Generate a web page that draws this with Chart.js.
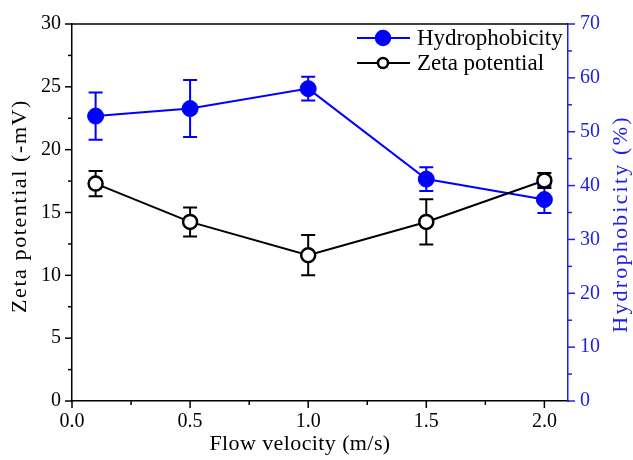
<!DOCTYPE html>
<html>
<head>
<meta charset="utf-8">
<script src="https://cdn.jsdelivr.net/npm/chart.js@4/dist/chart.umd.min.js"></script>
<style>
  html, body { margin: 0; padding: 0; background: #fff; }
  #wrap { width: 633px; height: 460px; position: relative; }
</style>
</head>
<body>
<div id="wrap"><canvas id="c" width="633" height="460"></canvas></div>
<script>
// ---- Data ----
const velocity = [0.1, 0.5, 1.0, 1.5, 2.0];
const hydrophobicity = [52.9, 54.3, 58.0, 41.2, 37.4];
const hydrophobicityErr = [4.4, 5.3, 2.2, 2.2, 2.5];
const zetaPotential = [17.3, 14.25, 11.6, 14.25, 17.55];
const zetaPotentialErr = [1.0, 1.15, 1.6, 1.8, 0.6];
const xTickValues = [0.0, 0.5, 1.0, 1.5, 2.0];
const yLeftTickValues = [0, 5, 10, 15, 20, 25, 30];
const yRightTickValues = [0, 10, 20, 30, 40, 50, 60, 70];
const seriesNames = ['Hydrophobicity', 'Zeta potential'];
const xTitle = 'Flow velocity (m/s)';
const yLeftTitle = 'Zeta potential (-mV)';
const yRightTitle = 'Hydrophobicity (%)';

const BLUE = '#0000ff';
const AXIS_BLUE = '#2020e0';
const FONT = "'Liberation Serif', 'Times New Roman', serif";

const toPts = (xs, ys) => xs.map((x, i) => ({x: x, y: ys[i]}));
const fixTicks = vals => (s => { s.ticks = vals.map(v => ({value: v})); });

const errorBars = {
  id: 'errorBars',
  beforeDatasetDraw(chart, args) {
    const ds = chart.data.datasets[args.index];
    if (!ds.errors) return;
    const ctx = chart.ctx;
    const xs = chart.scales.x, ys = chart.scales[ds.yAxisID];
    ctx.save();
    ctx.strokeStyle = ds.borderColor;
    ctx.lineWidth = 2;
    ds.data.forEach((p, i) => {
      const e = ds.errors[i];
      const px = xs.getPixelForValue(p.x);
      const top = ys.getPixelForValue(p.y + e);
      const bot = ys.getPixelForValue(p.y - e);
      ctx.beginPath();
      ctx.moveTo(px, top); ctx.lineTo(px, bot);
      ctx.moveTo(px - 7, top); ctx.lineTo(px + 7, top);
      ctx.moveTo(px - 7, bot); ctx.lineTo(px + 7, bot);
      ctx.stroke();
    });
    ctx.restore();
  }
};

const decor = {
  id: 'decor',
  afterDraw(chart) {
    const ctx = chart.ctx;
    const a = chart.chartArea;
    const sx = chart.scales.x, sl = chart.scales.y, sr = chart.scales.y2;
    ctx.save();
    // top frame
    ctx.strokeStyle = '#000';
    ctx.lineWidth = 1.5;
    ctx.beginPath();
    ctx.moveTo(a.left, a.top); ctx.lineTo(a.right, a.top);
    ctx.stroke();
    // x ticks
    for (let v = 0; v <= 2.1001; v += 0.25) {
      const major = Math.abs(v / 0.5 - Math.round(v / 0.5)) < 1e-6;
      const px = sx.getPixelForValue(v);
      ctx.beginPath();
      ctx.moveTo(px, a.bottom); ctx.lineTo(px, a.bottom + (major ? 7 : 4));
      ctx.stroke();
    }
    // left ticks
    for (let v = 0; v <= 30.001; v += 2.5) {
      const major = Math.abs(v / 5 - Math.round(v / 5)) < 1e-6;
      const py = sl.getPixelForValue(v);
      ctx.beginPath();
      ctx.moveTo(a.left, py); ctx.lineTo(a.left - (major ? 7 : 4), py);
      ctx.stroke();
    }
    // right ticks
    ctx.strokeStyle = AXIS_BLUE;
    for (let v = 0; v <= 70.001; v += 5) {
      const major = Math.abs(v / 10 - Math.round(v / 10)) < 1e-6;
      const py = sr.getPixelForValue(v);
      ctx.beginPath();
      ctx.moveTo(a.right, py); ctx.lineTo(a.right + (major ? 7 : 4), py);
      ctx.stroke();
    }
    // titles
    ctx.textAlign = 'center';
    ctx.textBaseline = 'middle';
    ctx.fillStyle = '#000';
    ctx.font = '22px ' + FONT;
    ctx.letterSpacing = '0.4px';
    ctx.fillText(xTitle, 300, 444);
    ctx.letterSpacing = '1.6px';
    ctx.save();
    ctx.translate(20, 206);
    ctx.rotate(-Math.PI / 2);
    ctx.fillText(yLeftTitle, 0, 0);
    ctx.restore();
    ctx.save();
    ctx.letterSpacing = '2.2px';
    ctx.fillStyle = AXIS_BLUE;
    ctx.translate(621, 224);
    ctx.rotate(-Math.PI / 2);
    ctx.fillText(yRightTitle, 0, 0);
    ctx.restore();
    ctx.letterSpacing = '0px';
    // legend
    ctx.font = '23px ' + FONT;
    ctx.textAlign = 'left';
    const rows = [
      {y: 38, color: BLUE, fill: BLUE, r: 7, name: seriesNames[0]},
      {y: 63, color: '#000', fill: '#fff', r: 5, name: seriesNames[1]}
    ];
    rows.forEach(r => {
      ctx.strokeStyle = r.color;
      ctx.lineWidth = 2;
      ctx.beginPath();
      ctx.moveTo(357, r.y); ctx.lineTo(410, r.y);
      ctx.stroke();
      ctx.beginPath();
      ctx.arc(383, r.y, r.r, 0, Math.PI * 2);
      ctx.fillStyle = r.fill;
      ctx.fill();
      ctx.lineWidth = 2.5;
      ctx.stroke();
      ctx.fillStyle = '#000';
      ctx.fillText(r.name, 417, r.y + 1);
    });
    ctx.restore();
  }
};

new Chart(document.getElementById('c'), {
  type: 'line',
  data: {
    datasets: [
      {
        label: seriesNames[1],
        data: toPts(velocity, zetaPotential),
        errors: zetaPotentialErr,
        yAxisID: 'y',
        borderColor: '#000',
        backgroundColor: '#fff',
        pointBackgroundColor: '#fff',
        pointBorderColor: '#000',
        pointBorderWidth: 2.5,
        pointRadius: 7,
        borderWidth: 2,
        tension: 0,
        order: 1
      },
      {
        label: seriesNames[0],
        data: toPts(velocity, hydrophobicity),
        errors: hydrophobicityErr,
        yAxisID: 'y2',
        borderColor: BLUE,
        backgroundColor: BLUE,
        pointBackgroundColor: BLUE,
        pointBorderColor: BLUE,
        pointBorderWidth: 1,
        pointRadius: 8,
        borderWidth: 2,
        tension: 0,
        order: 2
      }
    ]
  },
  options: {
    responsive: false,
    animation: false,
    layout: { padding: { top: 20, left: 0, right: 0, bottom: 0 } },
    plugins: { legend: { display: false }, tooltip: { enabled: false } },
    scales: {
      x: {
        type: 'linear',
        min: 0, max: 2.1,
        afterFit(s) { s.height = 59; },
        afterBuildTicks: fixTicks(xTickValues),
        grid: { display: false, drawTicks: false, tickLength: 0 },
        border: { display: true, color: '#000', width: 1.5 },
        ticks: {
          padding: 9, color: '#000', autoSkip: false, maxRotation: 0,
          font: { family: FONT, size: 20 },
          callback: v => v.toFixed(1)
        }
      },
      y: {
        position: 'left',
        min: 0, max: 30,
        afterFit(s) { s.width = 72; },
        afterBuildTicks: fixTicks(yLeftTickValues),
        grid: { display: false, drawTicks: false, tickLength: 0 },
        border: { display: true, color: '#000', width: 1.5 },
        ticks: { padding: 11, color: '#000', font: { family: FONT, size: 20 } }
      },
      y2: {
        position: 'right',
        min: 0, max: 70,
        afterFit(s) { s.width = 65; },
        afterBuildTicks: fixTicks(yRightTickValues),
        grid: { display: false, drawTicks: false, tickLength: 0 },
        border: { display: true, color: AXIS_BLUE, width: 1.5 },
        ticks: { padding: 12, color: AXIS_BLUE, font: { family: FONT, size: 20 } }
      }
    }
  },
  plugins: [errorBars, decor]
});
</script>
</body>
</html>
